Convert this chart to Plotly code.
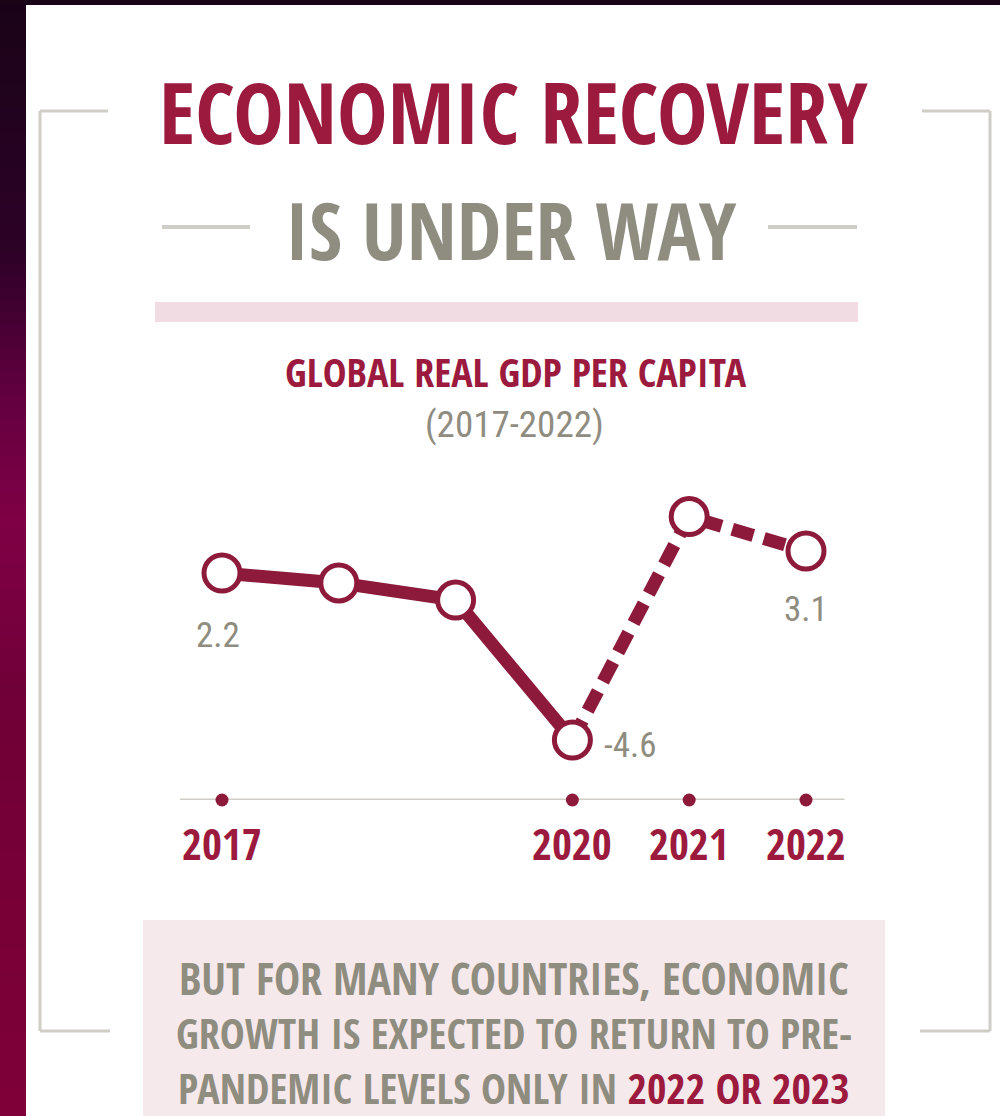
import plotly.graph_objects as go

# ---------------- data ----------------
years = [2017, 2018, 2019, 2020, 2021, 2022]
gdp_growth = [2.2, 1.8, 1.1, -4.6, 4.5, 3.1]
solid_years = years[:4]
solid_vals = gdp_growth[:4]
dash_years = years[3:]
dash_vals = gdp_growth[3:]
tick_years = [2017, 2020, 2021, 2022]
tick_labels = ["2017", "2020", "2021", "2022"]
label_years = [2017, 2020, 2022]
label_texts = ["2.2", "-4.6", "3.1"]

title1 = "ECONOMIC RECOVERY"
title2 = "IS UNDER WAY"
subtitle = "GLOBAL REAL GDP PER CAPITA"
period = "(2017-2022)"
note_lines = [
    "BUT FOR MANY COUNTRIES, ECONOMIC",
    "GROWTH IS EXPECTED TO RETURN TO PRE-",
    "PANDEMIC LEVELS ONLY IN <span style='color:#9b1a3e'>2022 OR 2023</span>",
]

# ---------------- style ----------------
W, H = 1000, 1116
MAROON = "#9b1a3e"
LINE_MAROON = "#8e1a3b"
GREY_TXT = "#8f8c80"
GREY_LINE = "#cfcec6"
PINK_BAR = "#f0dce2"
PINK_BOX = "#f6e9eb"
FONT = "Open Sans Condensed, Roboto Condensed, DejaVu Sans Condensed, sans-serif"
FONT_REG = "Roboto Condensed, Open Sans Condensed, DejaVu Sans Condensed, sans-serif"


def py(p):
    return 1 - p / H


fig = go.Figure()

# lines
fig.add_trace(go.Scatter(x=solid_years, y=solid_vals, mode="lines",
                         line=dict(color=LINE_MAROON, width=13), hoverinfo="skip"))
fig.add_trace(go.Scatter(x=dash_years, y=dash_vals, mode="lines",
                         line=dict(color=LINE_MAROON, width=13, dash="22px,11px"),
                         hoverinfo="skip"))
# open circle markers
fig.add_trace(go.Scatter(x=years, y=gdp_growth, mode="markers",
                         marker=dict(symbol="circle", size=36, color="white",
                                     line=dict(color=LINE_MAROON, width=5)),
                         hoverinfo="skip"))

YMIN, YMAX = -7.04, 5.99
# axis dots
fig.add_trace(go.Scatter(x=tick_years, y=[YMIN] * len(tick_years), mode="markers",
                         marker=dict(size=13, color=LINE_MAROON), cliponaxis=False,
                         hoverinfo="skip"))

shapes = []
# left gradient strip
stops = [(0, (26, 4, 24)), (250, (45, 2, 40)), (400, (100, 0, 64)),
         (520, (128, 0, 70)), (700, (112, 0, 56)), (900, (120, 0, 55)),
         (1116, (128, 0, 58))]
band = 12
for y0 in range(0, H, band):
    yc = y0 + band / 2
    for i in range(len(stops) - 1):
        if stops[i][0] <= yc <= stops[i + 1][0]:
            a, ca = stops[i]
            b, cb = stops[i + 1]
            t = (yc - a) / (b - a)
            c = tuple(int(ca[k] + (cb[k] - ca[k]) * t) for k in range(3))
            break
    shapes.append(dict(type="rect", xref="paper", yref="paper", x0=0, x1=26 / W,
                       y0=py(min(y0 + band, H)), y1=py(y0), fillcolor="rgb(%d,%d,%d)" % c,
                       line=dict(width=0), layer="above"))
# top dark band
shapes.append(dict(type="rect", xref="paper", yref="paper", x0=0, x1=1, y0=py(5), y1=1,
                   fillcolor="#1a0418", line=dict(width=0)))


def seg(x0, y0, x1, y1, color=GREY_LINE, width=3):
    shapes.append(dict(type="line", xref="paper", yref="paper", x0=x0 / W, x1=x1 / W,
                       y0=py(y0), y1=py(y1), line=dict(color=color, width=width)))


# brackets
seg(40, 111, 108, 111)
seg(40, 111, 40, 1031)
seg(40, 1031, 110, 1031)
seg(922, 111, 990, 111)
seg(990, 111, 990, 1031)
seg(920, 1031, 990, 1031)
# dashes around "IS UNDER WAY"
seg(162, 227, 250, 227, width=4)
seg(768, 227, 857, 227, width=4)
# pink bar
shapes.append(dict(type="rect", xref="paper", yref="paper", x0=155 / W, x1=858 / W,
                   y0=py(322), y1=py(302), fillcolor=PINK_BAR, line=dict(width=0)))
# bottom pink box
shapes.append(dict(type="rect", xref="paper", yref="paper", x0=143 / W, x1=885 / W,
                   y0=0, y1=py(920), fillcolor=PINK_BOX, line=dict(width=0), layer="below"))
# baseline axis
shapes.append(dict(type="line", xref="x", yref="y", x0=2016.64, x1=2022.33, y0=YMIN, y1=YMIN,
                   line=dict(color=GREY_LINE, width=3), layer="below"))

ann = []


def txt(text, x, y, size, color, family=FONT, bold=True, xanchor="center"):
    ann.append(dict(text=text, x=x / W, y=py(y), xref="paper", yref="paper",
                    xanchor=xanchor, yanchor="middle", showarrow=False,
                    font=dict(family=family, size=size, color=color,
                              weight="bold" if bold else "normal")))


txt(title1, 513, 111, 85, MAROON)
txt(title2, 511, 228, 80, GREY_TXT)
txt(subtitle, 516, 371, 40, MAROON)
txt(period, 514, 424, 37, GREY_TXT, family=FONT_REG, bold=False)
note_sizes = [44, 42, 42]
for i, line in enumerate(note_lines):
    txt(line, 514, 978 + i * 54.5, note_sizes[i], GREY_TXT)

# tick labels
for yr, lab in zip(tick_years, tick_labels):
    ann.append(dict(text=lab, x=yr, y=YMIN, xref="x", yref="y", yshift=-43,
                    xanchor="center", yanchor="middle", showarrow=False,
                    font=dict(family=FONT, size=43, color=MAROON, weight="bold")))

# value labels
offsets = {2017: (-4, -62), 2020: (58, -5), 2022: (0, -59)}
for yr, lab in zip(label_years, label_texts):
    v = gdp_growth[years.index(yr)]
    dx, dy = offsets[yr]
    ann.append(dict(text=lab, x=yr, y=v, xref="x", yref="y", xshift=dx, yshift=dy,
                    xanchor="center", yanchor="middle", showarrow=False,
                    font=dict(family=FONT_REG, size=35, color=GREY_TXT)))

X0 = 2017 - 222 / 116.8
X1 = X0 + W / 116.8
fig.update_layout(
    width=W, height=H, margin=dict(l=0, r=0, t=0, b=0),
    paper_bgcolor="white", plot_bgcolor="rgba(0,0,0,0)",
    showlegend=False, shapes=shapes, annotations=ann,
    xaxis=dict(range=[X0, X1], domain=[0, 1], visible=False, fixedrange=True),
    yaxis=dict(range=[YMIN, YMAX], domain=[py(800), py(480)], visible=False, fixedrange=True),
)

fig.write_html("out.html", config={"displayModeBar": False},
               post_script="document.body.style.margin='0';")
